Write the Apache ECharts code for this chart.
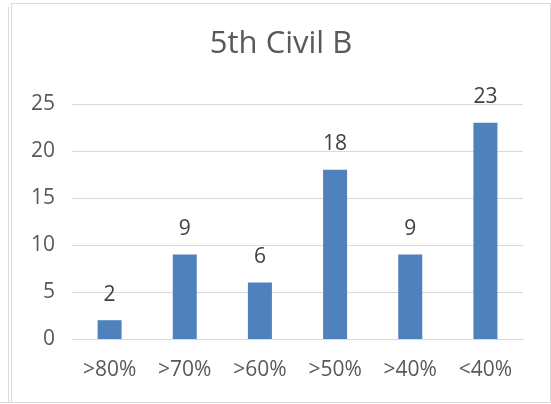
<!DOCTYPE html>
<html>
<head>
<meta charset="utf-8">
<script src="https://cdn.jsdelivr.net/npm/echarts@6/dist/echarts.min.js"></script>
<style>
html,body{margin:0;padding:0;background:#fff;width:551px;height:404px;overflow:hidden;position:relative;}
#side{position:absolute;left:8px;top:7px;width:1px;height:396px;background:#d9d9d9;}
#bot{position:absolute;left:0;top:402px;width:12px;height:1px;background:#d9d9d9;}
#chart{position:absolute;left:11px;top:3px;width:540px;height:400px;box-sizing:border-box;border:1px solid #d9d9d9;}
</style>
</head>
<body>
<div id="side"></div>
<div id="bot"></div>
<div id="chart"></div>
<script>
const titleText = '5th Civil B';
const categories = ['>80%', '>70%', '>60%', '>50%', '>40%', '<40%'];
const values = [2, 9, 6, 18, 9, 23];
const yTicks = { min: 0, max: 25, interval: 5 };

const chart = echarts.init(document.getElementById('chart'), null, {renderer: 'canvas'});
const font = '"Open Sans", "Noto Sans", sans-serif';
chart.setOption({
  animation: false,
  title: {
    text: titleText,
    left: 'center',
    top: 20,
    textStyle: {fontFamily: font, fontSize: 31, fontWeight: 'normal', color: '#595959'}
  },
  grid: {left: 60, right: 27, top: 100, bottom: 63},
  xAxis: {
    type: 'category',
    data: categories,
    axisLine: {lineStyle: {color: '#d9d9d9', width: 1}},
    axisTick: {show: false},
    axisLabel: {fontFamily: font, fontSize: 21, color: '#595959', margin: 21}
  },
  yAxis: {
    type: 'value',
    min: yTicks.min, max: yTicks.max, interval: yTicks.interval,
    axisLine: {show: false},
    axisTick: {show: false},
    splitLine: {lineStyle: {color: '#d9d9d9', width: 1}},
    axisLabel: {fontFamily: font, fontSize: 21, color: '#595959', margin: 17}
  },
  series: [{
    type: 'bar',
    data: values,
    barWidth: 24,
    itemStyle: {color: '#4F81BD'},
    label: {show: true, position: 'top', distance: 15, fontFamily: font, fontSize: 21, color: '#404040'}
  }]
});
</script>
</body>
</html>
